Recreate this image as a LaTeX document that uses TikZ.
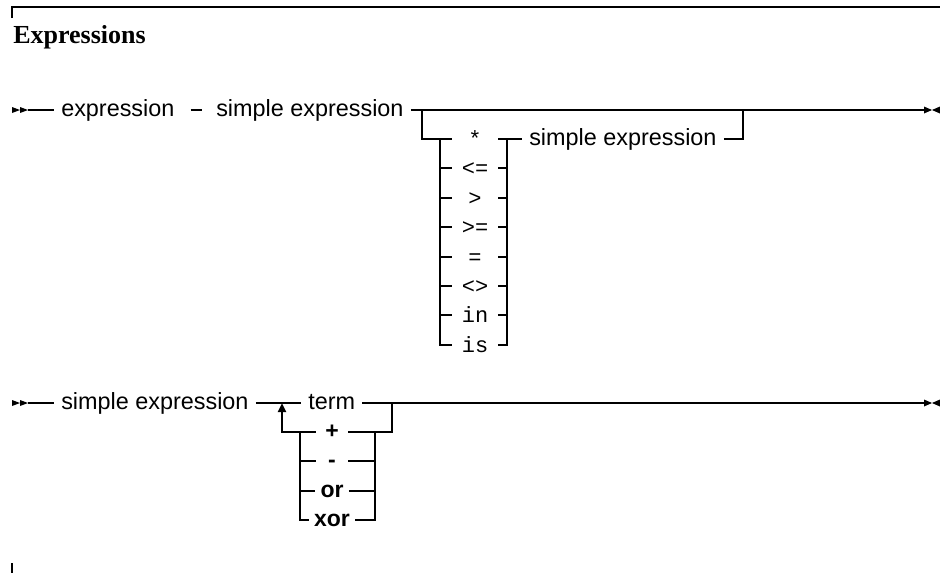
\documentclass[tikz,border=0pt]{standalone}
\usepackage{fontspec}
\setmainfont{Liberation Sans}
\newfontfamily\monofont{Liberation Mono}
\newfontfamily\headfont{Liberation Serif}
\usetikzlibrary{arrows.meta}
\begin{document}
\begin{tikzpicture}
[
    x=1pt, y=-1pt,
    line width=2.5pt,
    nterm/.style={font=\fontsize{23.4}{28}\selectfont, inner xsep=6pt, inner ysep=0pt, text height=17pt, text depth=5pt},
    opmono/.style={font=\monofont\fontsize{22}{26}\selectfont, inner sep=0pt, text height=16pt, text depth=2pt, minimum width=44pt},
    opbold/.style={font=\bfseries\fontsize{23}{28}\selectfont, inner xsep=4pt, inner ysep=0pt, text height=17pt, text depth=5pt, minimum width=30pt},
]
\useasboundingbox (0,0) rectangle (940,574);
\draw (12,18) -- (12,7) -- (940,7);
\draw (12,563) -- (12,573);
\node[anchor=base west, inner sep=0pt, font=\headfont\bfseries\fontsize{26}{30}\selectfont] (title) at (12,43) {Expressions};

\coordinate (startA) at (28,110);
\coordinate (stopA) at (924,110);
\coordinate (splitA) at (422,110);
\coordinate (joinA) at (743,110);
\coordinate (colAl) at (440,139);
\coordinate (colAr) at (507,139);
\node[nterm, anchor=west] (exprA) at (54,110) {expression};
\node[nterm, anchor=west] (simpA) at (209,110) {simple expression};
\node[opmono] (opmul) at (475,139) {*};
\node[opmono] (ople) at (475,168) {<=};
\node[opmono] (opgt) at (475,198) {>};
\node[opmono] (opge) at (475,227) {>=};
\node[opmono] (opeq) at (475,257) {=};
\node[opmono] (opne) at (475,286) {<>};
\node[opmono] (opin) at (475,315) {in};
\node[opmono] (opis) at (475,345) {is};
\node[nterm, anchor=west] (simpB) at (522,139) {simple expression};
\draw (startA) -- (exprA.west);
\draw[shorten <=9pt, shorten >=7pt] (exprA.east) -- (simpA.west);
\draw (simpA.east) -- (stopA);
\draw (splitA) |- (opmul.west);
\draw (opmul.east) -- (simpB.west);
\draw (simpB.east) -| (joinA);
\draw (colAl) |- (opis.west);
\draw (opis.east) -| (colAr);
\foreach \op in {ople,opgt,opge,opeq,opne,opin}
    \draw (\op.west -| colAl) -- (\op.west) (\op.east) -- (\op.east -| colAr);

\coordinate (startB) at (28,403);
\coordinate (stopB) at (924,403);
\coordinate (loopB) at (282,403);
\coordinate (backB) at (392,403);
\coordinate (colBl) at (300,432);
\coordinate (colBr) at (375,432);
\node[nterm, anchor=west] (simpC) at (54,403) {simple expression};
\node[nterm, anchor=west] (term) at (301,403) {term};
\node[opbold] (opplus) at (332,432) {+};
\node[opbold] (opminus) at (332,461) {-};
\node[opbold] (opor) at (332,491) {or};
\node[opbold] (opxor) at (332,520) {xor};
\draw (startB) -- (simpC.west);
\draw (simpC.east) -- (term.west);
\draw (term.east) -- (stopB);
\draw (backB) |- (opplus.east);
\draw[-{Triangle[length=9pt,width=8pt]}] (opplus.west) -| (loopB);
\draw (colBl) |- (opxor.west);
\draw (opxor.east) -| (colBr);
\foreach \op in {opminus,opor}
    \draw (\op.west -| colBl) -- (\op.west) (\op.east) -- (\op.east -| colBr);

\foreach \y in {110,403} {
    \fill (12,\y-3) -- (20,\y) -- (12,\y+3) -- cycle (20,\y-3) -- (28,\y) -- (20,\y+3) -- cycle;
    \fill (924,\y-3.5) -- (932,\y) -- (924,\y+3.5) -- cycle (940,\y-3.5) -- (932,\y) -- (940,\y+3.5) -- cycle;
}
\end{tikzpicture}
\end{document}
